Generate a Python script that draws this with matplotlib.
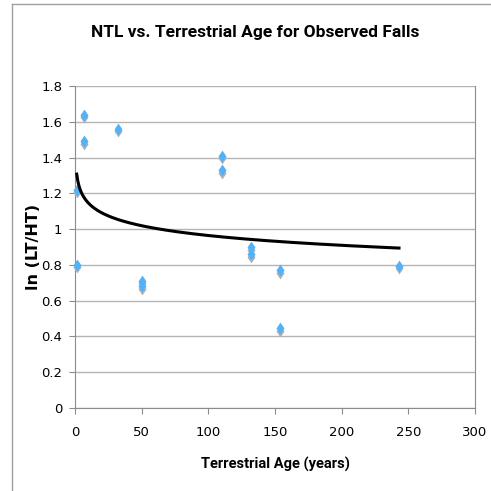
import numpy as np
import matplotlib
matplotlib.use("Agg")
import matplotlib.pyplot as plt
from matplotlib.lines import Line2D
from matplotlib.path import Path
from matplotlib.transforms import ScaledTranslation

# terrestrial age (years) vs ln(LT/HT)
age = [1.3, 1.3, 7, 7, 32, 50, 50, 110, 110, 132, 132, 154, 154, 243]
ln_ratio = [1.22, 0.80, 1.64, 1.49, 1.56, 0.71, 0.68, 1.41, 1.33, 0.90, 0.86, 0.77, 0.445, 0.795]

# logarithmic trendline coefficients (y = a*ln(x) + b)
trend_a = -0.079
trend_b = 1.328

x_ticks = [0, 50, 100, 150, 200, 250, 300]
y_ticks = [0, 0.2, 0.4, 0.6, 0.8, 1, 1.2, 1.4, 1.6, 1.8]
y_tick_labels = ["0", "0.2", "0.4", "0.6", "0.8", "1", "1.2", "1.4", "1.6", "1.8"]

# squat diamond like the spreadsheet marker
diamond = Path([(0, 1), (0.68, 0), (0, -1), (-0.68, 0), (0, 1)],
               [Path.MOVETO, Path.LINETO, Path.LINETO, Path.LINETO, Path.CLOSEPOLY])

fig = plt.figure(figsize=(4.91, 4.91), dpi=100)
fig.patch.set_facecolor("white")
ax = fig.add_axes([75 / 491, 1 - 408 / 491, 400 / 491, 322 / 491])

# outer chart frame (only left and top edges fall inside the image)
fig.add_artist(Line2D([12 / 491, 12 / 491], [0, 1 - 4 / 491], transform=fig.transFigure,
                      color="#a0a0a0", lw=1))
fig.add_artist(Line2D([12 / 491, 1], [1 - 4 / 491, 1 - 4 / 491], transform=fig.transFigure,
                      color="#a0a0a0", lw=1))

x = np.array(age, dtype=float)
y = np.array(ln_ratio)

shadow = ax.transData + ScaledTranslation(0, -2.5 / 100, fig.dpi_scale_trans)
ax.plot(x, y, linestyle="none", marker=diamond, markersize=8.5, color="#b0b0b0",
        markeredgewidth=0, transform=shadow, zorder=3, clip_on=False)
ax.plot(x, y, linestyle="none", marker=diamond, markersize=8.5, color="#52b2f7",
        markeredgewidth=0, zorder=4, clip_on=False)

xs = np.linspace(x.min(), x.max(), 300)
ax.plot(xs, trend_a * np.log(xs) + trend_b, color="black", lw=2.2, zorder=5)

ax.set_xlim(0, 300)
ax.set_ylim(0, 1.8)
ax.set_xticks(x_ticks)
ax.set_yticks(y_ticks)
ax.set_yticklabels(y_tick_labels)
ax.grid(axis="y", color="#b4b4b4", lw=1)
ax.set_axisbelow(True)
for side in ["left", "bottom", "right"]:
    ax.spines[side].set_color("#8c8c8c")
ax.spines["top"].set_visible(False)
ax.tick_params(direction="out", length=4, color="#8c8c8c", labelsize=9.5)
ax.tick_params(axis="x", pad=9)
ax.tick_params(axis="y", pad=5)

fig.text(275 / 491, 1 - 464 / 491, "Terrestrial Age (years)", ha="center", va="center",
         fontsize=10.5, fontweight="bold", family="Roboto")
fig.text(33 / 491, 1 - 247 / 491, "ln (LT/HT)", ha="center", va="center", rotation=90,
         fontsize=11.5, fontweight="bold")
fig.text(255 / 491, 1 - 32 / 491, "NTL vs. Terrestrial Age for Observed Falls",
         ha="center", va="center", fontsize=12.5, fontweight="bold", family="Roboto")

fig.savefig("out.png", dpi=100)
